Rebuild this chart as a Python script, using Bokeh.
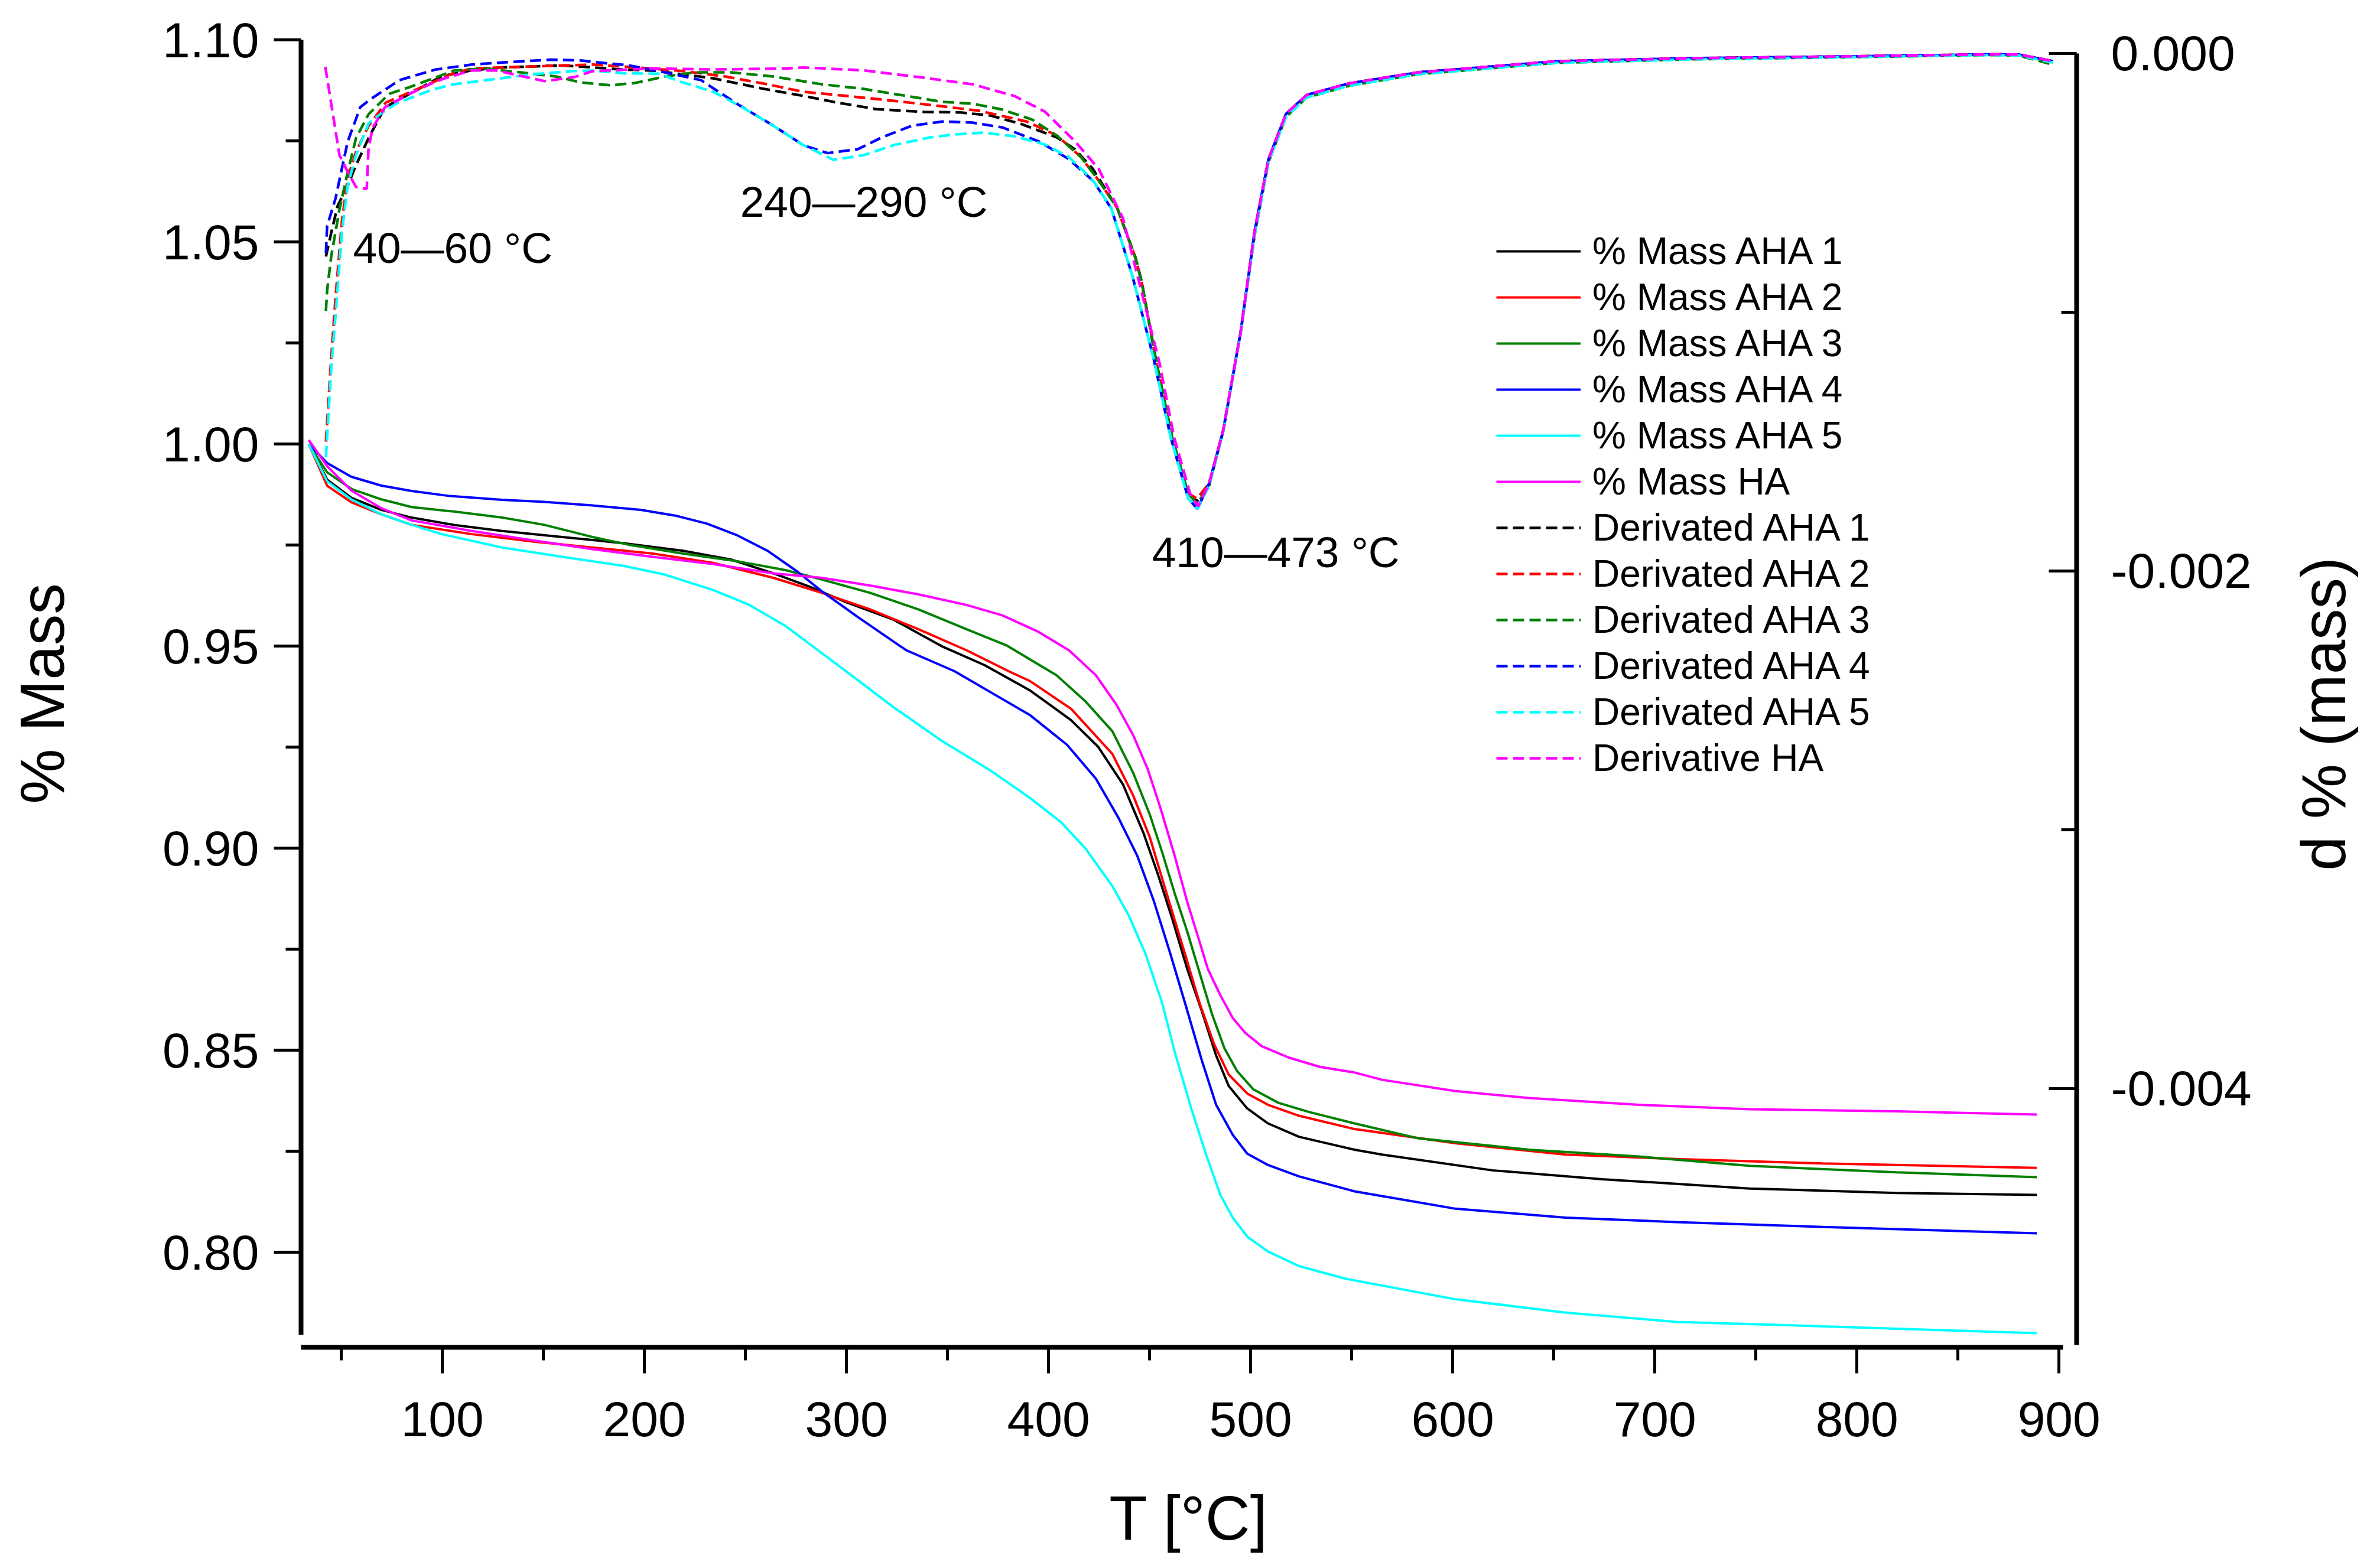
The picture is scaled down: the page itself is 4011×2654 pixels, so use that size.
import math
from bokeh.plotting import figure
from bokeh.layouts import row
from bokeh.models import Range1d, LinearAxis, FixedTicker, PrintfTickFormatter
from bokeh.core.properties import value
from bokeh.embed import file_html
from bokeh.resources import INLINE

FONT = "Liberation Sans"

# ---------------- axes ticks ----------------
X_TICKS = [100, 200, 300, 400, 500, 600, 700, 800, 900]
X_MINOR = [50, 150, 250, 350, 450, 550, 650, 750, 850]
YL_TICKS = [0.80, 0.85, 0.90, 0.95, 1.00, 1.05, 1.10]
YL_MINOR = [0.825, 0.875, 0.925, 0.975, 1.025, 1.075]
YR_TICKS = [-0.004, -0.002, 0.0]
YR_MINOR = [-0.003, -0.001]

# ---------------- % mass curves ----------------
T_AHA1 = [33.9, 43, 55, 69.9, 84.8, 105.7, 129.6, 159.4, 189.2, 219.1, 243, 263.8, 281.8, 299.7, 323.5, 347,
          368.3, 390.6, 411.1, 424.5, 436.8, 447, 454.2, 461.4, 468.6, 475.7, 482.9, 489.1, 498.3, 508.6, 523.9,
          551.4, 565, 619.5, 674, 746.8, 819.5, 889]
M_AHA1 = [1.000, 0.9912, 0.9867, 0.9837, 0.9818, 0.9800, 0.9785, 0.9770, 0.9755, 0.9736, 0.9714, 0.9680, 0.9647,
          0.9609, 0.9565, 0.9500, 0.9453, 0.9391, 0.9317, 0.9251, 0.9158, 0.9037, 0.8934, 0.8822, 0.8701, 0.8599,
          0.8487, 0.8412, 0.8356, 0.8319, 0.8286, 0.8254, 0.8242, 0.8203, 0.8181, 0.8158, 0.8147, 0.8142]

T_AHA2 = [33.9, 43, 55, 69.9, 84.8, 114.6, 144.5, 174.3, 204.2, 234, 263.8, 287.7, 311.6, 335.5, 359.3, 380.2,
          390.6, 411.1, 431.6, 441.9, 450.1, 456.2, 462.4, 468.6, 474.7, 481.9, 489.1, 498.3, 508.6, 523.9, 551.4,
          601.3, 655.9, 710.4, 783.1, 889]
M_AHA2 = [1.000, 0.9897, 0.9856, 0.9826, 0.9800, 0.9777, 0.9759, 0.9744, 0.9729, 0.9706, 0.9669, 0.9632, 0.9591,
          0.9542, 0.9490, 0.9438, 0.9414, 0.9345, 0.9233, 0.9130, 0.9027, 0.8925, 0.8822, 0.8720, 0.8617, 0.8515,
          0.8440, 0.8393, 0.8365, 0.8338, 0.8305, 0.8270, 0.8242, 0.8231, 0.8220, 0.8209]

T_AHA3 = [33.9, 43, 55, 69.9, 84.8, 105.7, 129.6, 150.5, 174.3, 192.2, 219.1, 246, 269.8, 287.7, 311.6, 335.5,
          359.3, 379.5, 403.9, 418.3, 431.6, 441.9, 450.1, 456.2, 462.4, 468.6, 474.7, 480.9, 487, 493.2, 501.4,
          513.7, 529.1, 551.4, 583.1, 637.7, 692.2, 746.8, 819.5, 889]
M_AHA3 = [1.000, 0.9930, 0.9889, 0.9863, 0.9844, 0.9833, 0.9818, 0.9800, 0.9770, 0.9751, 0.9729, 0.9710, 0.9688,
          0.9665, 0.9632, 0.9591, 0.9542, 0.9501, 0.9428, 0.9363, 0.9289, 0.9186, 0.9083, 0.8990, 0.8888, 0.8794,
          0.8692, 0.8589, 0.8505, 0.8449, 0.8403, 0.8370, 0.8347, 0.8319, 0.8282, 0.8254, 0.8237, 0.8214, 0.8198,
          0.8186]

T_AHA4 = [33.9, 43, 55, 69.9, 84.8, 102.7, 129.6, 150.5, 174.3, 198.2, 216.1, 231, 246, 260.9, 275.8, 287.7,
          305.6, 329.5, 353.4, 371.3, 390.6, 409.1, 423.4, 434.7, 443.9, 452.1, 460.3, 467.5, 475.7, 482.9, 491.1,
          498.3, 508.6, 523.9, 551.4, 601.3, 655.9, 710.4, 783.1, 889]
M_AHA4 = [1.000, 0.9953, 0.9919, 0.9897, 0.9884, 0.9872, 0.9862, 0.9857, 0.9848, 0.9837, 0.9822, 0.9803, 0.9774,
          0.9736, 0.9684, 0.9636, 0.9572, 0.9490, 0.9438, 0.9386, 0.9330, 0.9256, 0.9172, 0.9074, 0.8981, 0.8869,
          0.8738, 0.8617, 0.8477, 0.8365, 0.8291, 0.8244, 0.8216, 0.8188, 0.8151, 0.8108, 0.8086, 0.8075, 0.8063,
          0.8047]

T_AHA5 = [33.9, 43, 55, 69.9, 84.8, 99.7, 129.6, 159.4, 189.2, 210.1, 234, 251.9, 269.8, 287.7, 305.6, 323.5,
          347, 371.3, 390.6, 406, 418.3, 431.6, 439.8, 448, 456.2, 462.4, 470.6, 477.8, 485, 491.1, 498.3, 508.6,
          523.9, 546.8, 601.3, 655.9, 710.4, 783.1, 889]
M_AHA5 = [1.000, 0.9908, 0.9863, 0.9826, 0.9800, 0.9777, 0.9744, 0.9721, 0.9699, 0.9677, 0.9639, 0.9602, 0.9550,
          0.9483, 0.9416, 0.9348, 0.9266, 0.9192, 0.9125, 0.9065, 0.8999, 0.8906, 0.8832, 0.8738, 0.8617, 0.8496,
          0.8356, 0.8244, 0.8142, 0.8086, 0.8039, 0.8002, 0.7966, 0.7935, 0.7884, 0.7851, 0.7828, 0.7817, 0.7800]

T_HA = [33.9, 43, 55, 69.9, 84.8, 114.6, 144.5, 174.3, 204.2, 234, 263.8, 287.7, 311.6, 335.5, 359.3, 377.2,
        395.1, 410, 423.4, 433.7, 441.9, 449.1, 455.2, 462.4, 468.5, 473.7, 478.8, 485, 491.1, 497.3, 505.5, 518.8,
        534.2, 551.4, 565, 601.3, 637.7, 692.2, 746.8, 819.5, 889]
M_HA = [1.001, 0.9945, 0.9885, 0.9841, 0.9811, 0.9785, 0.9762, 0.9740, 0.9721, 0.9703, 0.9680, 0.9669, 0.9650,
        0.9628, 0.9602, 0.9576, 0.9535, 0.9490, 0.9428, 0.9354, 0.9279, 0.9195, 0.9102, 0.8981, 0.8869, 0.8785,
        0.8701, 0.8636, 0.8580, 0.8543, 0.8510, 0.8482, 0.8459, 0.8445, 0.8427, 0.8399, 0.8382, 0.8365, 0.8354,
        0.8349, 0.8341]

# ---------------- derivative curves (right axis) ----------------
TD_AHA1 = [42.4, 45, 48.2, 53.2, 57.3, 63.5, 71.6, 83.9, 99.7, 114.6, 129.6, 144.5, 159.4, 174.3, 189.2, 204.2,
           234, 257.9, 278.6, 293.5, 314.6, 338.3, 356.4, 371.3, 386.2, 404, 413, 421.9, 434, 443, 446, 453, 461,
           469, 473.5, 479.5, 486.4, 495, 502, 508.8, 517.5, 527.8, 548.5, 583, 652, 721, 790, 866, 880, 897]
D_AHA1 = [-0.000785, -0.000694, -0.000589, -0.00051, -0.000432, -0.000327, -0.000208, -0.000156, -0.000088,
          -0.000065, -0.000054, -0.00005, -0.000046, -0.000054, -0.000062, -0.000066, -0.000096, -0.000135,
          -0.000164, -0.000187, -0.000215, -0.000226, -0.000228, -0.00024, -0.000272, -0.000324, -0.00037,
          -0.000446, -0.000598, -0.00079, -0.00088, -0.00118, -0.00148, -0.0017, -0.00173, -0.00166, -0.001457,
          -0.001078, -0.000685, -0.000409, -0.000233, -0.00016, -0.000116, -0.000073, -0.00003, -0.000018,
          -0.000012, -0.0000034, -0.000004, -0.00003]

TD_AHA2 = [42.4, 45, 47.1, 50.3, 53.2, 57.3, 63.5, 72, 84, 105, 114.6, 144.4, 174.3, 198, 219, 240, 260.8, 278.6,
           299.7, 323.5, 341.5, 365.3, 389.2, 404.1, 416, 424.8, 434, 443, 446, 453, 461, 469, 473.5, 479.5, 486.4,
           495, 502, 508.8, 517.5, 527.8, 548.5, 583, 652, 721, 790, 866, 880, 897]
D_AHA2 = [-0.0015, -0.00118, -0.00095, -0.00065, -0.00048, -0.00038, -0.00028, -0.00019, -0.00015, -0.000078,
          -0.000058, -0.00005, -0.000043, -0.000055, -0.000068, -0.000089, -0.000119, -0.000148, -0.000164,
          -0.000183, -0.000199, -0.000221, -0.000263, -0.000317, -0.0004, -0.000491, -0.000598, -0.00079,
          -0.00088, -0.00118, -0.00148, -0.0017, -0.00172, -0.00166, -0.001457, -0.001078, -0.000685, -0.000409,
          -0.000233, -0.00016, -0.000116, -0.000073, -0.00003, -0.000018, -0.000012, -0.0000034, -0.000004,
          -0.00003]

TD_AHA3 = [42.4, 43, 45, 49.1, 53.2, 57.3, 63.5, 73.7, 83.9, 105.8, 120.7, 138.6, 156.4, 168.4, 183.3, 195.3,
           210.2, 225.1, 243, 263.7, 287.7, 308.5, 329.5, 347.3, 362.3, 377.2, 392, 404, 416, 424.8, 434, 443, 446,
           453, 461, 469, 473.5, 479.5, 486.4, 495, 502, 508.8, 517.5, 527.8, 548.5, 583, 652, 721, 790, 866, 880,
           897]
D_AHA3 = [-0.000995, -0.000916, -0.000785, -0.000603, -0.000458, -0.000327, -0.000235, -0.000156, -0.00013,
          -0.000066, -0.000058, -0.000073, -0.000089, -0.000112, -0.000123, -0.000114, -0.000089, -0.000073,
          -0.000073, -0.000089, -0.000119, -0.000137, -0.000164, -0.000187, -0.000194, -0.000217, -0.000256,
          -0.000317, -0.0004, -0.000491, -0.000598, -0.000788, -0.00088, -0.00118, -0.00148, -0.0017, -0.00174,
          -0.00167, -0.00146, -0.00108, -0.0007, -0.00042, -0.000245, -0.00017, -0.000125, -0.00008, -0.000036,
          -0.000022, -0.000015, -0.000006, -0.000008, -0.000043]

TD_AHA4 = [42.4, 43, 47.1, 53.2, 59.4, 63.9, 78.8, 96.7, 114.6, 129.6, 153.4, 168.4, 177.3, 192.2, 210.1, 228,
           245.9, 263.8, 278.8, 290.7, 305.6, 317.6, 332.5, 347.4, 362.3, 377.2, 395.2, 410, 422, 431, 441.5, 452,
           460.5, 469.1, 473.7, 479.5, 486.4, 495, 502, 508.8, 517.5, 527.8, 548.5, 583, 652, 721, 790, 866, 880,
           897]
D_AHA4 = [-0.000772, -0.000667, -0.000562, -0.00034, -0.000208, -0.00018, -0.000103, -0.000062, -0.000043,
          -0.000035, -0.000024, -0.000027, -0.000035, -0.000046, -0.000073, -0.000103, -0.000195, -0.000279,
          -0.000355, -0.000385, -0.00037, -0.000324, -0.000279, -0.000263, -0.000267, -0.000286, -0.00034,
          -0.000408, -0.000492, -0.000598, -0.00086, -0.00118, -0.001486, -0.00172, -0.00176, -0.00166, -0.001457,
          -0.001078, -0.000685, -0.000409, -0.000233, -0.00016, -0.000116, -0.000073, -0.00003, -0.000018,
          -0.000012, -0.0000034, -0.000004, -0.00003]

TD_AHA5 = [42.4, 45, 47.1, 50.3, 53.2, 57.3, 63.5, 70, 78, 85, 95, 105, 125, 145, 165, 175, 190, 207, 219, 234,
           248.8, 263.7, 278.6, 293.5, 308.5, 323.4, 341.5, 353.2, 368, 383, 398.2, 410, 422, 431, 441.5, 452, 460.5,
           469.1, 473.7, 479.5, 486.4, 495, 502, 508.8, 517.5, 527.8, 548.5, 583, 652, 721, 790, 866, 880, 897]
D_AHA5 = [-0.00156, -0.00122, -0.00102, -0.000694, -0.00051, -0.000393, -0.00027, -0.00023, -0.00019, -0.00017,
          -0.00014, -0.00012, -0.0001, -0.00008, -0.000068, -0.000066, -0.000077, -0.000078, -0.000112, -0.000148,
          -0.00021, -0.000279, -0.000354, -0.000411, -0.000393, -0.000354, -0.000324, -0.000313, -0.000306,
          -0.00032, -0.000352, -0.0004, -0.000491, -0.000598, -0.00086, -0.00118, -0.001486, -0.00172, -0.00176,
          -0.00167, -0.00146, -0.00108, -0.0007, -0.00042, -0.000245, -0.00017, -0.000125, -0.00008, -0.000036,
          -0.000022, -0.000015, -0.000006, -0.000008, -0.000035]

TD_HA = [42.1, 49.1, 53.2, 57.3, 62.6, 63.5, 65.5, 71.6, 83.9, 93.8, 100.5, 114.6, 126.6, 150.6, 165.5, 174.3,
         204, 234, 270, 278.6, 308.5, 335.4, 362.3, 383, 398.2, 413.1, 424.8, 436.8, 445.9, 455, 462, 470, 474,
         479.5, 486.4, 495, 502, 508.8, 517.5, 527.8, 548.5, 583, 652, 721, 790, 866, 880, 897]
D_HA = [-0.0000514, -0.000393, -0.000458, -0.000516, -0.000523, -0.000366, -0.000288, -0.000208, -0.000156,
        -0.000119, -0.000098, -0.0000655, -0.0000655, -0.000107, -0.000091, -0.0000685, -0.000058, -0.000062,
        -0.000058, -0.000054, -0.0000655, -0.000091, -0.000119, -0.000164, -0.000225, -0.00034, -0.000446,
        -0.000637, -0.000918, -0.0012, -0.00148, -0.0017, -0.00175, -0.00166, -0.001457, -0.001078, -0.000685,
        -0.000409, -0.000233, -0.00016, -0.000116, -0.000073, -0.00003, -0.000018, -0.000012, -0.0000034,
        -0.000004, -0.00003]

# ---------------- annotations ----------------
ANN_T = [55.8, 247.4, 451.2]
ANN_Y = [1.0485, 1.0599, 0.9732]
ANN_TEXT = ["40\u201460 \u00b0C", "240\u2014290 \u00b0C", "410\u2014473 \u00b0C"]

RIGHT_TITLE = "d % (mass)"

MASS_SERIES = [
    ("% Mass AHA 1", T_AHA1, M_AHA1, "#000000"),
    ("% Mass AHA 2", T_AHA2, M_AHA2, "#FF0000"),
    ("% Mass AHA 3", T_AHA3, M_AHA3, "#008000"),
    ("% Mass AHA 4", T_AHA4, M_AHA4, "#0000FF"),
    ("% Mass AHA 5", T_AHA5, M_AHA5, "#00FFFF"),
    ("% Mass HA", T_HA, M_HA, "#FF00FF"),
]
DERIV_SERIES = [
    ("Derivated AHA 1", TD_AHA1, D_AHA1, "#000000"),
    ("Derivated AHA 2", TD_AHA2, D_AHA2, "#FF0000"),
    ("Derivated AHA 3", TD_AHA3, D_AHA3, "#008000"),
    ("Derivated AHA 4", TD_AHA4, D_AHA4, "#0000FF"),
    ("Derivated AHA 5", TD_AHA5, D_AHA5, "#00FFFF"),
    ("Derivative HA", TD_HA, D_HA, "#FF00FF"),
]

TOTAL_W = 3995
TOTAL_H = 2638
SIDE_W = 160
MAIN_W = TOTAL_W - SIDE_W

p = figure(width=MAIN_W, height=TOTAL_H, output_backend="svg", toolbar_location=None, title=None,
           x_range=Range1d(30.1, 908.7), y_range=Range1d(0.7765, 1.10),
           min_border_left=509, min_border_right=MAIN_W - 3514, min_border_top=67, min_border_bottom=358)
p.extra_y_ranges = {"d": Range1d(-0.0050, 0.0000525)}
p.outline_line_color = None
p.xgrid.visible = False
p.ygrid.visible = False
p.background_fill_color = "white"
p.border_fill_color = "white"

for name, t, m, c in MASS_SERIES:
    p.line(t, m, line_color=c, line_width=4, legend_label=name)
for name, t, d, c in DERIV_SERIES:
    p.line(t, d, line_color=c, line_width=4.5, line_dash="19 9", y_range_name="d", legend_label=name)

p.text(x=ANN_T, y=ANN_Y, text=ANN_TEXT, text_font=value(FONT), text_font_size="73px",
       text_align="left", text_baseline="alphabetic", text_color="black")


def style_axis(ax):
    ax.axis_line_width = 8
    ax.axis_line_color = "black"
    ax.major_tick_line_width = 5
    ax.minor_tick_line_width = 5
    ax.major_tick_line_color = "black"
    ax.minor_tick_line_color = "black"
    ax.major_label_text_font = FONT
    ax.major_label_text_font_size = "84px"
    ax.major_label_text_color = "black"
    ax.axis_label_text_font = FONT
    ax.axis_label_text_font_size = "105px"
    ax.axis_label_text_font_style = "normal"
    ax.axis_label_text_color = "black"


xa = p.xaxis[0]
style_axis(xa)
xa.ticker = FixedTicker(ticks=X_TICKS, minor_ticks=X_MINOR)
xa.axis_label = "T [\u00b0C]"
xa.major_tick_out = 44
xa.major_tick_in = 0
xa.minor_tick_out = 22
xa.minor_tick_in = 0
xa.major_label_standoff = 48
xa.axis_label_standoff = 77
xa.bounds = (30.1, 902)

ya = p.yaxis[0]
style_axis(ya)
ya.ticker = FixedTicker(ticks=YL_TICKS, minor_ticks=YL_MINOR)
ya.formatter = PrintfTickFormatter(format="%.2f")
ya.axis_label = "% Mass"
ya.major_tick_out = 46
ya.major_tick_in = 0
ya.minor_tick_out = 26
ya.minor_tick_in = 0
ya.major_label_standoff = 25
ya.axis_label_standoff = 142
ya.bounds = (0.7795, 1.10)

ra = LinearAxis(y_range_name="d")
style_axis(ra)
ra.ticker = FixedTicker(ticks=YR_TICKS, minor_ticks=YR_MINOR)
ra.formatter = PrintfTickFormatter(format="%.3f")
ra.major_tick_out = 0
ra.major_tick_in = 47
ra.minor_tick_out = 0
ra.minor_tick_in = 26
ra.major_label_standoff = 58
ra.bounds = (-0.00499, 0.0)
p.add_layout(ra, "right")

lg = p.legend[0]
lg.location = (2023, 958)
lg.background_fill_alpha = 0
lg.border_line_color = None
lg.padding = 0
lg.margin = 0
lg.spacing = 0
lg.glyph_width = 143
lg.glyph_height = 78
lg.label_height = 78
lg.label_standoff = 20
lg.label_text_font = FONT
lg.label_text_font_size = "64px"
lg.label_text_color = "black"
lg.label_text_baseline = "middle"

# narrow strip on the right that carries the right-axis title, reading bottom to top
side = figure(width=SIDE_W, height=TOTAL_H, output_backend="svg", toolbar_location=None, title=None,
              x_range=Range1d(0, SIDE_W), y_range=Range1d(0, TOTAL_H),
              x_axis_location=None, y_axis_location=None, min_border=0)
side.outline_line_color = None
side.xgrid.visible = False
side.ygrid.visible = False
side.background_fill_color = "white"
side.border_fill_color = "white"
side.text(x=[3940 - 8 - MAIN_W], y=[TOTAL_H - (1368 - 8)], text=[RIGHT_TITLE], angle=math.pi / 2,
          text_font=value(FONT), text_font_size="105px", text_align="center", text_baseline="middle",
          text_color="black")

layout = row(p, side)
open("out.html", "w").write(file_html(layout, INLINE))
